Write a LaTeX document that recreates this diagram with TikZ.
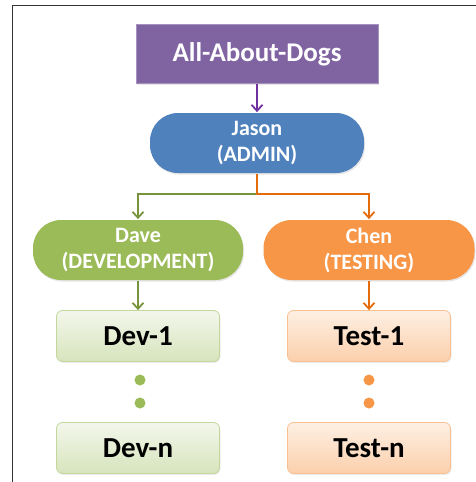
\documentclass[tikz,border=0pt]{standalone}
\usepackage{fontspec}
\setmainfont{Carlito}
\usetikzlibrary{positioning, shapes, shadows, arrows.meta}
\definecolor{dogpurple}{HTML}{8064A2}
\definecolor{arrpurple}{HTML}{7030A0}
\definecolor{admblue}{HTML}{4F81BD}
\definecolor{devgreen}{HTML}{9BBB59}
\definecolor{arrgreen}{HTML}{77933C}
\definecolor{tstorange}{HTML}{F79646}
\definecolor{arrorange}{HTML}{E46C0A}
\begin{document}
\begin{tikzpicture}[x=1pt, y=-1pt, -{Straight Barb[length=6pt,width=11pt]},
      line width=1.8pt, inner sep=0pt,
      every node/.style={font=\bfseries, align=center},
      topbox/.style={draw=dogpurple!70, line width=0.8pt, fill=dogpurple, text=white,
        minimum width=242pt, minimum height=59pt, font=\bfseries\fontsize{27}{30}\selectfont,
        drop shadow={opacity=0.2, shadow xshift=1pt, shadow yshift=-1.5pt}},
      lead/.style={rounded corners=28pt, minimum height=60pt, text=white,
        font=\bfseries\fontsize{22}{26}\selectfont,
        drop shadow={opacity=0.2, shadow xshift=1pt, shadow yshift=-1.5pt}},
      member/.style={rounded corners=6pt, line width=0.8pt, minimum width=163pt,
        minimum height=51pt, font=\bfseries\fontsize{29}{31}\selectfont,
        drop shadow={opacity=0.15, shadow xshift=1pt, shadow yshift=-1.5pt}},
      dot/.style={circle, minimum size=11pt}]
      \useasboundingbox (0,0) rectangle (476,482);
      % frame
      \draw[-, line width=0.8pt, black!80] (12,482) -- (12,5) -- (476,5);
      % top and admin
      \node[topbox] (dogs) at(257,54) {All-About-Dogs};
      \node[lead, fill=admblue, minimum width=214pt] (jason) at(257,143) {Jason\\(ADMIN)};
      \draw[arrpurple] (dogs) -- (jason);
      % leads
      \node[lead, fill=devgreen, minimum width=210pt] (dave) at(138,250) {Dave\\(DEVELOPMENT)};
      \node[lead, fill=tstorange, minimum width=211pt] (chen) at(369,250) {Chen\\(TESTING)};
      \coordinate (split) at(257,194);
      \draw[arrgreen] (split) -| (dave.north);
      \draw[arrorange] (jason.south) -- (split) -| (chen.north);
      % development
      \node[member, draw=devgreen!60, top color=devgreen!12, bottom color=devgreen!40] (dev_1) at(138,336) {Dev-1};
      \node[member, draw=devgreen!60, top color=devgreen!12, bottom color=devgreen!40] (dev_n) at(138,448) {Dev-n};
      \draw[arrgreen] (dave) -- (dev_1);
      \node[dot, fill=devgreen] (dg_1) at(140,380) {};
      \node[dot, fill=devgreen] (dg_2) at(140,403) {};
      % testing
      \node[member, draw=tstorange!60, top color=tstorange!15, bottom color=tstorange!45] (test_1) at(369,336) {Test-1};
      \node[member, draw=tstorange!60, top color=tstorange!15, bottom color=tstorange!45] (test_n) at(369,448) {Test-n};
      \draw[arrorange] (chen) -- (test_1);
      \node[dot, fill=tstorange] (od_1) at(369,380) {};
      \node[dot, fill=tstorange] (od_2) at(369,403) {};
  \end{tikzpicture}
\end{document}
